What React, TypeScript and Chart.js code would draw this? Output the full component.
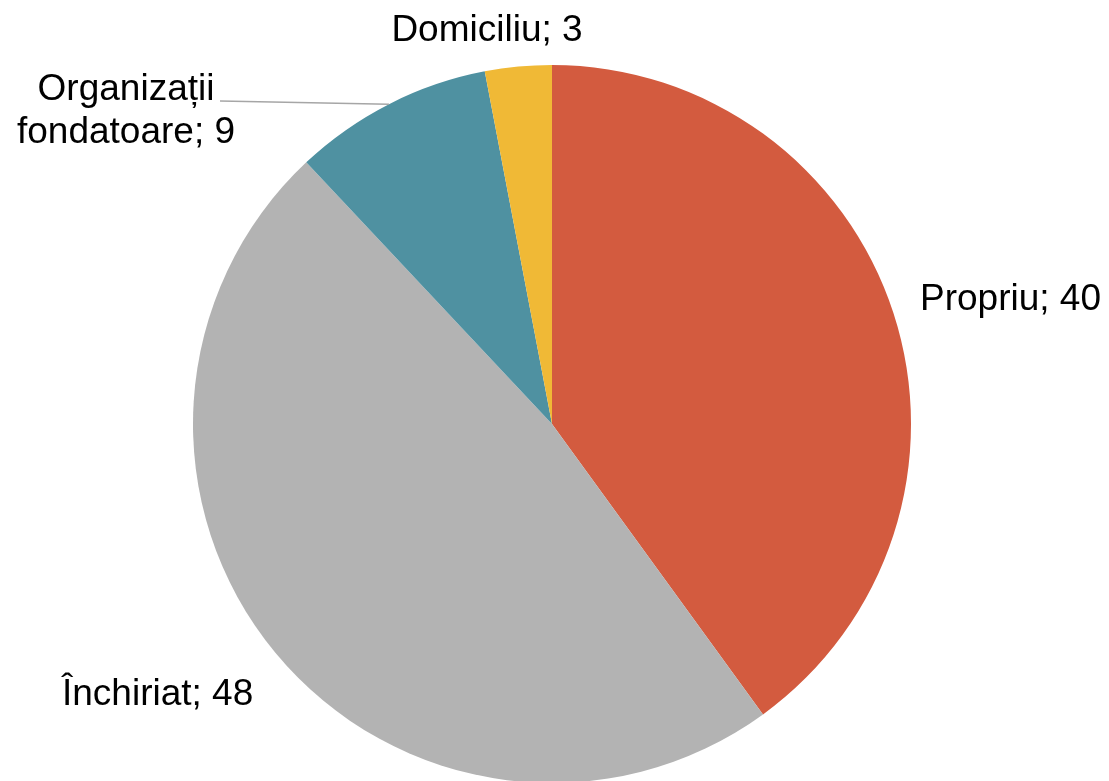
import React, { useEffect, useRef } from "react";
import { Chart, registerables } from "chart.js";

Chart.register(...registerables);

const categories = ["Propriu", "Închiriat", "Organizații fondatoare", "Domiciliu"];
const values = [40, 48, 9, 3];
const colors = ["#D35B3F", "#B3B3B3", "#4F91A1", "#F0B936"];

// label layout: lines, anchor x, baseline y, alignment
const labelLayout = [
  { lines: ["Propriu; 40"], x: 920, y: 310, align: "left" },
  { lines: ["Închiriat; 48"], x: 62, y: 705, align: "left" },
  { lines: ["Organizații", "fondatoare; 9"], x: 126, y: 100, align: "center", leader: { x1: 220, y1: 101 } },
  { lines: ["Domiciliu; 3"], x: 487, y: 41, align: "center" },
];

const labelPlugin = {
  id: "pieLabels",
  afterDraw(chart: any) {
    const ctx = chart.ctx;
    const meta = chart.getDatasetMeta(0);
    ctx.save();
    ctx.font = "37px 'Liberation Sans', Arial, sans-serif";
    ctx.fillStyle = "#000000";
    ctx.textBaseline = "alphabetic";
    labelLayout.forEach((l: any, i: number) => {
      if (l.leader) {
        const arc = meta.data[i];
        const mid = (arc.startAngle + arc.endAngle) / 2;
        const r = arc.outerRadius;
        const ex = arc.x + Math.cos(mid) * r;
        const ey = arc.y + Math.sin(mid) * r;
        ctx.strokeStyle = "#A6A6A6";
        ctx.lineWidth = 1.5;
        ctx.beginPath();
        ctx.moveTo(l.leader.x1, l.leader.y1);
        ctx.lineTo(ex, ey);
        ctx.stroke();
      }
      ctx.textAlign = l.align;
      l.lines.forEach((t: string, j: number) => {
        ctx.fillText(t, l.x, l.y + j * 43);
      });
    });
    ctx.restore();
  },
};

export default function App() {
  const ref = useRef<HTMLCanvasElement>(null);
  useEffect(() => {
    if (!ref.current) return;
    const chart = new Chart(ref.current, {
      type: "pie",
      data: {
        labels: categories,
        datasets: [
          {
            data: values,
            backgroundColor: colors,
            borderWidth: 0,
            hoverOffset: 0,
            offset: 0,
          },
        ],
      },
      options: {
        responsive: false,
        animation: false,
        devicePixelRatio: 1,
        layout: { padding: { top: 65, bottom: 17, left: 193, right: 198 } },
        plugins: {
          legend: { display: false },
          tooltip: { enabled: false },
        },
      },
      plugins: [labelPlugin],
    });
    return () => chart.destroy();
  }, []);
  return (
    <div style={{ position: "absolute", left: 0, top: 0, width: 1109, height: 800, background: "#fff" }}>
      <canvas ref={ref} width={1109} height={800} style={{ display: "block" }} />
    </div>
  );
}
